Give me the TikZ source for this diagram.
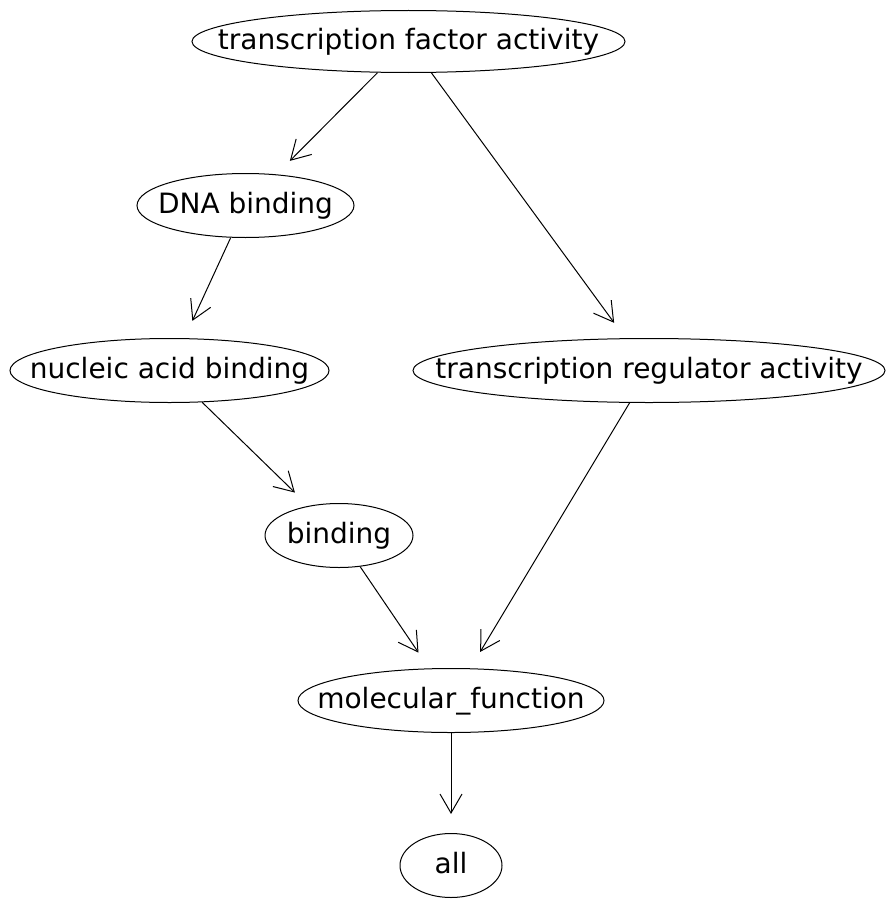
\documentclass[tikz,border=0pt]{standalone}
\usepackage{fontspec}
\setmainfont{DejaVu Sans}
\usetikzlibrary{shapes.geometric,arrows.meta}
\begin{document}
\begin{tikzpicture}[x=1pt,y=-1pt,
  gnode/.style={ellipse, draw, line width=1pt, inner sep=0pt, minimum height=64pt,
    text height=20.5pt, text depth=5.5pt, font=\fontsize{28}{30}\selectfont},
  edge/.style={line width=1pt, -{Straight Barb[length=19pt,width=22pt]}, shorten >=19pt}]
\useasboundingbox (0,0) rectangle (888,899);
\node[gnode, minimum width=433pt, minimum height=62pt] (tfa) at (408.5,41.5) {\makebox[0pt]{transcription factor activity}};
\node[gnode, minimum width=217pt] (dna) at (245.5,205.5) {\makebox[0pt]{DNA binding}};
\node[gnode, minimum width=319pt] (nuc) at (169.5,370.5) {\makebox[0pt]{nucleic acid binding}};
\node[gnode, minimum width=472pt] (trg) at (649,370.5) {\makebox[0pt]{transcription regulator activity}};
\node[gnode, minimum width=148pt] (bnd) at (339,535.5) {\makebox[0pt]{binding}};
\node[gnode, minimum width=306pt] (mf) at (451,700.5) {\makebox[0pt]{molecular\_function}};
\node[gnode, minimum width=102pt] (all) at (451,865.5) {\makebox[0pt]{all}};
\draw[edge] (tfa) -- (dna);
\draw[edge] (tfa) -- (trg);
\draw[edge] (dna) -- (nuc);
\draw[edge] (nuc) -- (bnd);
\draw[edge] (trg) -- (mf);
\draw[edge] (bnd) -- (mf);
\draw[edge] (mf) -- (all);
\end{tikzpicture}
\end{document}
